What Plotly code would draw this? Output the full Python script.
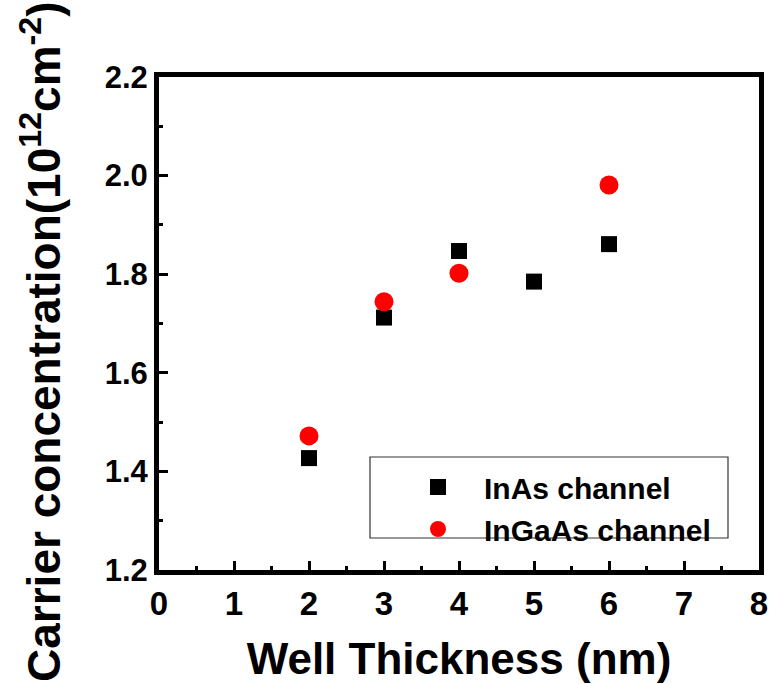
import plotly.graph_objects as go

# Data
well_thickness_inas = [2, 3, 4, 5, 6]
carrier_inas = [1.427, 1.712, 1.847, 1.785, 1.861]
well_thickness_ingaas = [2, 3, 4, 6]
carrier_ingaas = [1.472, 1.744, 1.802, 1.981]

x_ticks = [0, 1, 2, 3, 4, 5, 6, 7, 8]
y_ticks = [1.2, 1.4, 1.6, 1.8, 2.0, 2.2]
y_tick_labels = ["1.2", "1.4", "1.6", "1.8", "2.0", "2.2"]

FONT = "Liberation Sans, Arial, sans-serif"

fig = go.Figure()
fig.add_trace(go.Scatter(
    x=well_thickness_inas, y=carrier_inas, mode="markers",
    name="InAs channel",
    marker=dict(symbol="square", size=16, color="black", line=dict(width=0)),
))
fig.add_trace(go.Scatter(
    x=well_thickness_ingaas, y=carrier_ingaas, mode="markers",
    name="InGaAs channel",
    marker=dict(symbol="circle", size=19, color="#ff0000", line=dict(width=0)),
))

W, H = 769, 684
L, R, T, B = 159, 10, 77, 114
PW, PH = W - L - R, H - T - B

def px_x(p):
    return (p - L) / PW

def px_y(p):
    return (H - B - p) / PH

fig.update_layout(
    width=W, height=H,
    margin=dict(l=L, r=R, t=T, b=B, pad=0, autoexpand=False),
    paper_bgcolor="white", plot_bgcolor="white",
    font=dict(family=FONT, color="black", weight="bold"),
    showlegend=True,
    legend=dict(
        x=px_x(392), y=px_y(461),
        xanchor="left", yanchor="top",
        bgcolor="rgba(0,0,0,0)", borderwidth=0,
        font=dict(family=FONT, size=30, color="black", weight="bold"),
        itemwidth=82, tracegroupgap=0,
    ),
    shapes=[dict(
        type="rect", xref="paper", yref="paper",
        x0=px_x(370), x1=px_x(728), y0=px_y(538), y1=px_y(457),
        line=dict(color="#333333", width=1.2), fillcolor="rgba(0,0,0,0)",
        layer="below",
    )],
    annotations=[dict(
        text="Carrier concentration(10<sup>12</sup>cm<sup>-2</sup>)",
        xref="paper", yref="paper", x=px_x(41), y=px_y(342),
        xanchor="center", yanchor="middle",
        textangle=-90, showarrow=False,
        font=dict(family=FONT, size=46, color="black", weight="bold"),
    )],
)

fig.update_xaxes(
    range=[0, 8], tickvals=x_ticks, ticktext=[str(v) for v in x_ticks],
    automargin=False,
    showgrid=False, zeroline=False,
    showline=True, linewidth=5, linecolor="black", mirror=True,
    ticks="inside", ticklen=9, tickwidth=3, tickcolor="black",
    minor=dict(ticks="inside", ticklen=4, tickwidth=3, tickcolor="black", dtick=0.5, showgrid=False),
    tickfont=dict(family=FONT, size=33, color="black", weight="bold"),
    title=dict(text="Well Thickness (nm)", standoff=24,
               font=dict(family=FONT, size=44, color="black", weight="bold")),
)
fig.update_yaxes(
    range=[1.2, 2.2], tickvals=y_ticks, ticktext=y_tick_labels,
    automargin=False,
    showgrid=False, zeroline=False,
    showline=True, linewidth=5, linecolor="black", mirror=True,
    ticks="inside", ticklen=9, tickwidth=3, tickcolor="black",
    minor=dict(ticks="inside", ticklen=4, tickwidth=3, tickcolor="black", dtick=0.1, showgrid=False),
    tickfont=dict(family=FONT, size=31, color="black", weight="bold"),
)

fig.write_html(
    "out.html",
    config={"displayModeBar": False},
    post_script="document.body.style.margin='0';document.body.style.overflow='hidden';",
)
